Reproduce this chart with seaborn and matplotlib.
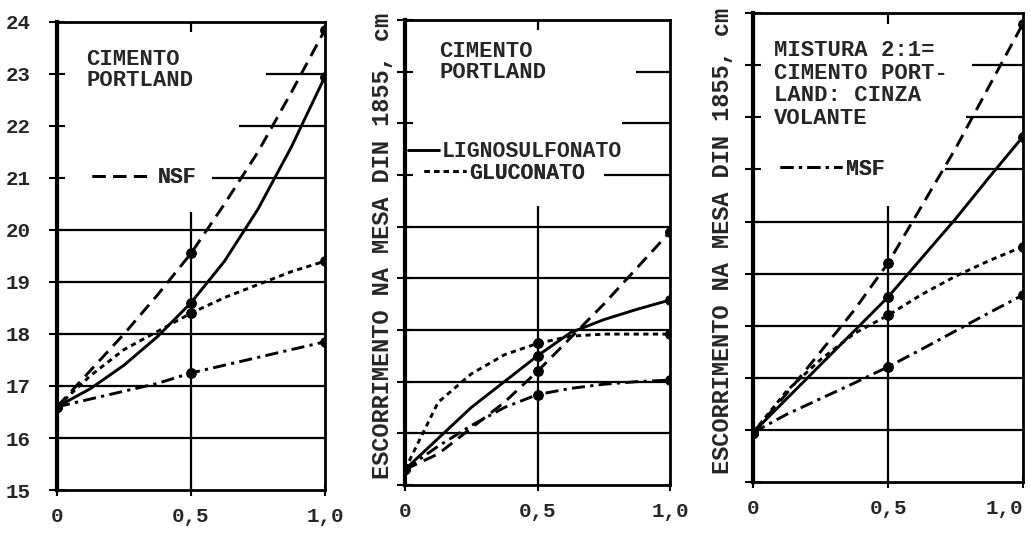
import matplotlib
matplotlib.use("Agg")
import matplotlib.pyplot as plt
import seaborn as sns
from matplotlib.lines import Line2D

# dosagem (eixo x) e escorrimento, cm
dosage = [0, 0.125, 0.25, 0.375, 0.5, 0.625, 0.75, 0.875, 1.0]
marker_idx = [0, 4, 8]
x_ticks = [0, 0.5, 1.0]
x_ticklabels = ["0", "0,5", "1,0"]
y_ticks = [15, 16, 17, 18, 19, 20, 21, 22, 23, 24]

# painel 1 - cimento portland
p1_nsf = [16.6, 17.3, 18.0, 18.75, 19.55, 20.5, 21.5, 22.65, 23.85]
p1_ligno = [16.6, 16.95, 17.4, 17.95, 18.6, 19.4, 20.4, 21.6, 22.95]
p1_gluc = [16.6, 17.2, 17.7, 18.05, 18.4, 18.7, 18.95, 19.2, 19.4]
p1_msf = [16.6, 16.75, 16.9, 17.05, 17.25, 17.4, 17.55, 17.7, 17.85]

# painel 2 - cimento portland
p2_nsf = [15.3, 15.6, 16.1, 16.6, 17.2, 17.85, 18.5, 19.2, 19.9]
p2_ligno = [15.3, 15.9, 16.5, 17.0, 17.5, 17.95, 18.2, 18.4, 18.58]
p2_gluc = [15.3, 16.6, 17.15, 17.52, 17.74, 17.88, 17.92, 17.92, 17.92]
p2_msf = [15.3, 15.75, 16.15, 16.5, 16.75, 16.87, 16.95, 17.0, 17.03]

# painel 3 - mistura 2:1 cimento portland : cinza volante
p3_nsf = [15.95, 16.7, 17.5, 18.3, 19.2, 20.3, 21.4, 22.6, 23.8]
p3_ligno = [15.95, 16.6, 17.25, 17.9, 18.55, 19.3, 20.05, 20.85, 21.63]
p3_gluc = [15.95, 16.75, 17.35, 17.85, 18.2, 18.6, 18.95, 19.25, 19.52]
p3_msf = [15.95, 16.3, 16.6, 16.9, 17.21, 17.55, 17.9, 18.25, 18.59]

panel_titles = ["CIMENTO\nPORTLAND",
                "CIMENTO\nPORTLAND",
                "MISTURA 2:1=\nCIMENTO PORT-\nLAND: CINZA\nVOLANTE"]
y_label = "ESCORRIMENTO NA MESA DIN 1855, cm"

linestyles = {
    "NSF": (0, (4.5, 2.6)),
    "LIGNOSULFONATO": "-",
    "GLUCONATO": (0, (1.8, 1.5)),
    "MSF": (0, (4.5, 1.8, 1.1, 1.8)),
}

sns.set_style("white")
plt.rcParams["font.family"] = ["Liberation Mono", "DejaVu Sans Mono"]
plt.rcParams["font.weight"] = "bold"

fig = plt.figure(figsize=(10.31, 5.48), dpi=100)
rects = [[0.0553, 0.1058, 0.2599, 0.8542],
         [0.3928, 0.1150, 0.2571, 0.8485],
         [0.7304, 0.1204, 0.2618, 0.8556]]
panels = [
    {"NSF": p1_nsf, "LIGNOSULFONATO": p1_ligno, "GLUCONATO": p1_gluc, "MSF": p1_msf},
    {"NSF": p2_nsf, "LIGNOSULFONATO": p2_ligno, "GLUCONATO": p2_gluc, "MSF": p2_msf},
    {"NSF": p3_nsf, "LIGNOSULFONATO": p3_ligno, "GLUCONATO": p3_gluc, "MSF": p3_msf},
]
# gridline starts for the upper rows (text breaks the hand-drawn grid)
partial_rows = [{21: 0.58, 22: 0.68, 23: 0.78},
                {21: 0.75, 22: 0.82, 23: 0.87},
                {21: 0.71, 22: 0.79, 23: 0.81}]
mid_top = [20.35, 20.4, 20.3]
title_pos = [(0.11, 23.07, 1.0), (0.13, 23.18, 1.0), (0.078, 22.63, 1.12)]
label_x = [None, -0.04, -0.07]

axes = []
for i, rect in enumerate(rects):
    ax = fig.add_axes(rect)
    axes.append(ax)
    # grid first, curves on top
    for yv in y_ticks[1:6]:
        ax.hlines(yv, 0, 1.0, color="black", lw=1.6, zorder=1)
    for yv, x0 in partial_rows[i].items():
        ax.hlines(yv, x0, 1.0, color="black", lw=1.6, zorder=1)
    ax.vlines(0.5, 15, mid_top[i], color="black", lw=1.6, zorder=1)
    ax.vlines(0.5, 23.8, 24, color="black", lw=1.6, zorder=1)

    for name, vals in panels[i].items():
        sns.lineplot(x=dosage, y=vals, ax=ax, color="black", lw=2.1,
                     linestyle=linestyles[name], marker="o", markersize=7,
                     markevery=marker_idx, markeredgecolor="black",
                     markerfacecolor="black", zorder=3)

    ax.set_xlim(0, 1.0)
    ax.set_ylim(15, 24)
    ax.set_xticks(x_ticks)
    ax.set_xticklabels(x_ticklabels)
    ax.set_yticks(y_ticks)
    ax.tick_params(axis="y", direction="inout", length=12, width=1.5,
                   left=True, pad=13, labelsize=15, color="black")
    ax.tick_params(axis="x", direction="inout", length=8, width=1.5,
                   bottom=True, pad=8, labelsize=15, color="black")
    if i > 0:
        ax.tick_params(axis="y", labelleft=False)
        ax.set_ylabel(y_label, fontsize=17, fontweight="bold")
        ax.yaxis.set_label_coords(label_x[i], 0.515)
    if i == 2:
        ax.get_xticklabels()[-1].set_horizontalalignment("right")
    for side, sp in ax.spines.items():
        sp.set_visible(True)
        sp.set_color("black")
        sp.set_linewidth(2)
    ax.spines["left"].set_linewidth(3)

    tx, ty, ls = title_pos[i]
    ax.text(tx, ty, panel_titles[i], fontsize=16, fontweight="bold",
            va="center", ha="left", linespacing=ls)
    if ax.get_legend() is not None:
        ax.get_legend().remove()


def key(ax, name, x, y, hlen):
    h = Line2D([], [], color="black", lw=2.1, linestyle=linestyles[name])
    leg = ax.legend(handles=[h], labels=[name], loc="center left",
                    bbox_to_anchor=(x, (y - 15) / 9), frameon=False,
                    borderpad=0, borderaxespad=0, handlelength=hlen,
                    handletextpad=0.15, prop={"size": 15.5, "weight": "bold"})
    ax.add_artist(leg)


key(axes[0], "NSF", 0.13, 21.0, 2.9)
key(axes[1], "LIGNOSULFONATO", 0.01, 21.45, 1.45)
key(axes[1], "GLUCONATO", 0.07, 21.03, 1.95)
key(axes[2], "MSF", 0.10, 21.0, 2.9)

fig.savefig("out.png", dpi=100)
